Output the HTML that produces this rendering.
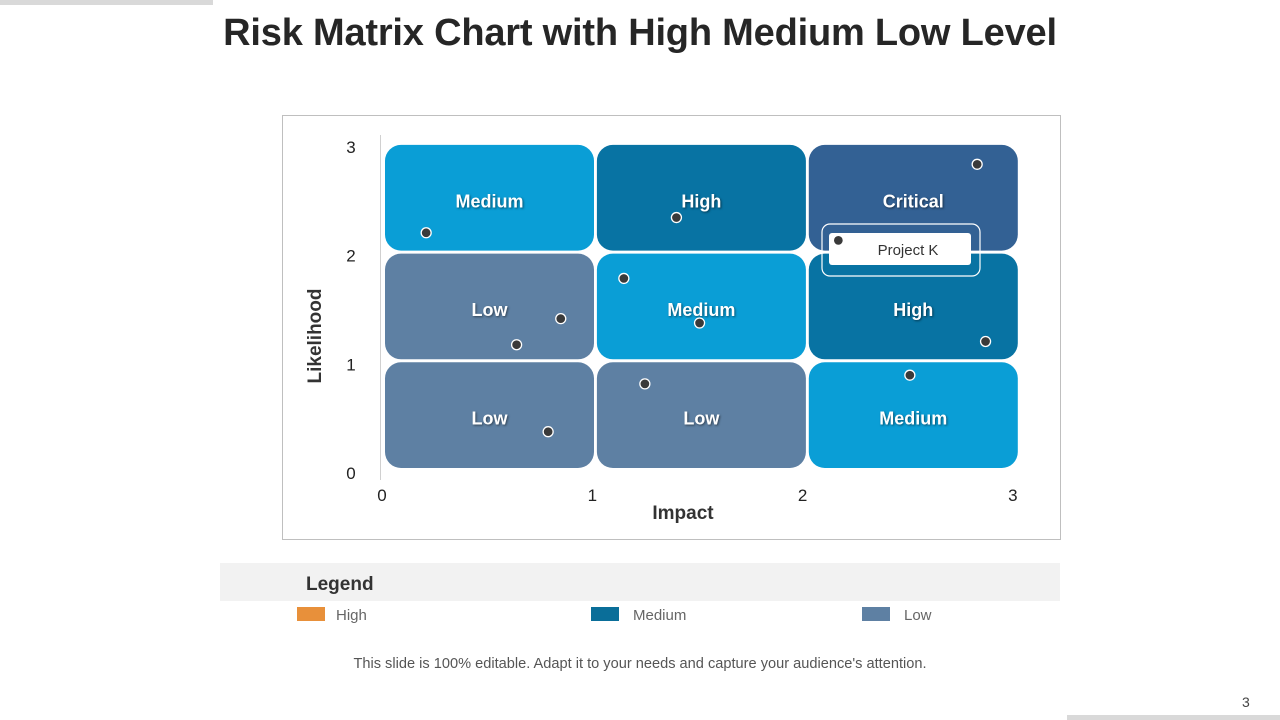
<!DOCTYPE html>
<html><head><meta charset="utf-8"><style>
body{margin:0;width:1280px;height:720px;background:#fff;font-family:"Liberation Sans",sans-serif;position:relative;overflow:hidden}
.abs{position:absolute}
</style></head><body>
<div class="abs" style="left:0;top:0;width:213px;height:5px;background:#d9d9d9"></div>
<div class="abs" style="left:1067px;top:715px;width:213px;height:5px;background:#d9d9d9"></div>
<div class="abs" style="left:0;width:1280px;top:12px;text-align:center;font-size:38px;font-weight:bold;color:#262626;letter-spacing:-0.2px">Risk Matrix Chart with High Medium Low Level</div>
<svg class="abs" style="left:0;top:0" width="1280" height="720" id="chart"></svg>
<div class="abs" style="left:220px;top:563px;width:840px;height:38px;background:#f2f2f2"></div>
<div class="abs" style="left:306px;top:574px;font-size:19px;font-weight:bold;color:#333">Legend</div>
<div class="abs" style="left:297px;top:607px;font-size:15px;color:#666"><span style="display:inline-block;width:28px;height:14px;background:#E8903A;vertical-align:-1px;margin-right:11px"></span>High</div>
<div class="abs" style="left:591px;top:607px;font-size:15px;color:#666"><span style="display:inline-block;width:28px;height:14px;background:#0A6E99;vertical-align:-1px;margin-right:14px"></span>Medium</div>
<div class="abs" style="left:862px;top:607px;font-size:15px;color:#666"><span style="display:inline-block;width:28px;height:14px;background:#5E80A3;vertical-align:-1px;margin-right:14px"></span>Low</div>
<div class="abs" style="left:0;width:1280px;top:656px;text-align:center;font-size:14.6px;color:#555">This slide is 100% editable. Adapt it to your needs and capture your audience's attention.</div>
<div class="abs" style="left:1242px;top:694px;font-size:14px;color:#444">3</div>
<script>
const cellLabels=[["Low","Low","Medium"],["Low","Medium","High"],["Medium","High","Critical"]];
const cellColors={Low:"#5E80A3",Medium:"#0A9ED6",High:"#0873A3",Critical:"#336194"};
const pointX=[0.21,1.40,2.83,2.17,1.15,0.85,0.64,1.51,2.87,1.25,2.51,0.79];
const pointY=[2.21,2.35,2.84,2.14,1.79,1.42,1.18,1.38,1.21,0.82,0.90,0.38];
const ticks=[0,1,2,3];
const NS="http://www.w3.org/2000/svg";
const svg=document.getElementById('chart');
const X=v=>382+v*210.3, Y=v=>473-v*108.7;
function mk(t,a,txt){const e=document.createElementNS(NS,t);for(const k in a)e.setAttribute(k,a[k]);if(txt!==undefined)e.textContent=txt;svg.appendChild(e);return e;}
let f=mk('rect',{x:282.5,y:115.5,width:778,height:424,fill:'#fff',stroke:'#bfbfbf'});


let ax=mk('line',{x1:380.5,y1:135,x2:380.5,y2:480,stroke:'#d0d0d0'});


for(let r=0;r<3;r++)for(let c=0;c<3;c++){
 const lab=cellLabels[r][c];
 const x0=X(c)+3+c*1.6,x1=x0+209,y0=Y(r+1)-2,y1=Y(r)-4;
 const rc=mk('rect',{x:x0,y:y0,width:x1-x0,height:y1-y0-1,rx:16,fill:cellColors[lab]});
 
 
 const t=mk('text',{x:(x0+x1)/2,y:(y0+y1)/2+9,'text-anchor':'middle','font-size':18,'font-weight':'bold',fill:'#fff',style:'text-shadow:1px 1px 2px rgba(0,0,0,.5)'},lab);
 
 
}
ticks.forEach(v=>{
 const a=mk('text',{x:X(v),y:501,'text-anchor':'middle','font-size':17,fill:'#222'},v);
 
 
 const b=mk('text',{x:351,y:Y(v)+6,'text-anchor':'middle','font-size':17,fill:'#222'},v);
 
 
});
let xt=mk('text',{x:683,y:519,'text-anchor':'middle','font-size':19,'font-weight':'bold',fill:'#333'},'Impact');


let yt=mk('text',{x:0,y:0,'text-anchor':'middle','font-size':19,'font-weight':'bold',fill:'#333',transform:'translate(321,336) rotate(-90)'},'Likelihood');


let co=mk('rect',{x:822,y:224,width:158,height:52,rx:8,fill:'none',stroke:'#fff','stroke-width':1.2});


let cb=mk('rect',{x:829,y:233,width:142,height:32,rx:3,fill:'#fff'});


let ct=mk('text',{x:908,y:255,'text-anchor':'middle','font-size':15,fill:'#333'},'Project K');


pointX.forEach((v,i)=>{
 const p=mk('circle',{cx:X(v),cy:Y(pointY[i]),r:5,fill:'#3a3a3a',stroke:'#fff','stroke-width':1.3});
 
 
});
</script>
</body></html>
